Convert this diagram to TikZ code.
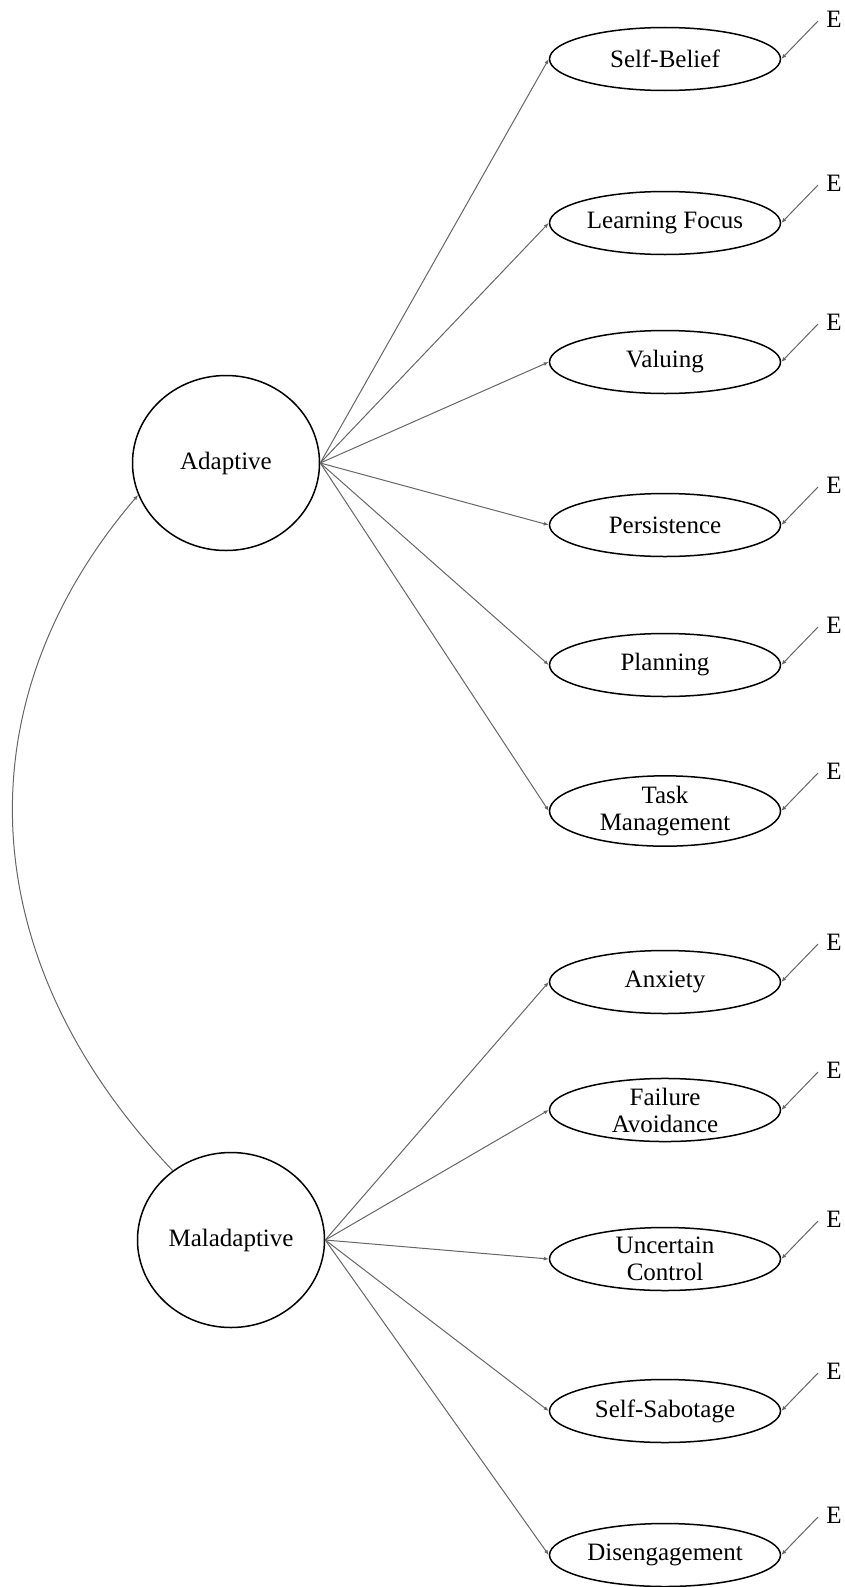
\documentclass[tikz,border=0pt]{standalone}
\usepackage{fontspec}
\setmainfont{Liberation Serif}
\usetikzlibrary{shapes.geometric,arrows.meta}
\begin{document}
\begin{tikzpicture}[x=1pt,y=-1pt,
 latent/.style={ellipse,draw,line width=1.5pt,minimum width=187pt,minimum height=175pt,inner sep=0pt,font=\fontsize{25}{27}\selectfont},
 obs/.style={ellipse,draw,line width=1.5pt,minimum width=231pt,minimum height=63pt,inner sep=0pt,align=center,font=\fontsize{25}{27}\selectfont},
 err/.style={inner sep=0pt,font=\fontsize{25}{27}\selectfont},
 conn/.style={draw=black!60,line width=1pt,-{Latex[length=5pt,width=4pt]}}
]
\useasboundingbox (0,0) rectangle (845,1587);
\node[latent] (ad) at (226,463) {Adaptive};
\node[latent] (mal) at (231,1240) {Maladaptive};

\node[obs] (o1) at (665,59) {Self-Belief};
\node[obs] (o2) at (665,223) {Learning Focus};
\node[obs] (o3) at (665,362) {Valuing};
\node[obs] (o4) at (665,525) {Persistence};
\node[obs] (o5) at (665,665) {Planning};
\node[obs] (o6) at (665,811) {Task\\Management};
\node[obs] (o7) at (665,982) {Anxiety};
\node[obs] (o8) at (665,1110) {Failure\\Avoidance};
\node[obs] (o9) at (665,1259) {Uncertain\\Control};
\node[obs] (o10) at (665,1411) {Self-Sabotage};
\node[obs] (o11) at (665,1555) {Disengagement};

\foreach \i/\y in {1/59,2/223,3/362,4/525,5/665,6/811,7/982,8/1110,9/1259,10/1411,11/1555}{
  \node[err] (e\i) at (834,\y-40) {E};
  \coordinate (s\i) at (818,\y-38);
  \draw[conn] (s\i) -- (o\i.east);
}

\foreach \i in {1,...,6}{\draw[conn] (ad.east) -- (o\i.west);}
\foreach \i in {7,...,11}{\draw[conn] (mal.east) -- (o\i.west);}

\draw[conn] (mal.130) .. controls (-28,960) and (-40,703) .. (ad.200);
\end{tikzpicture}
\end{document}
